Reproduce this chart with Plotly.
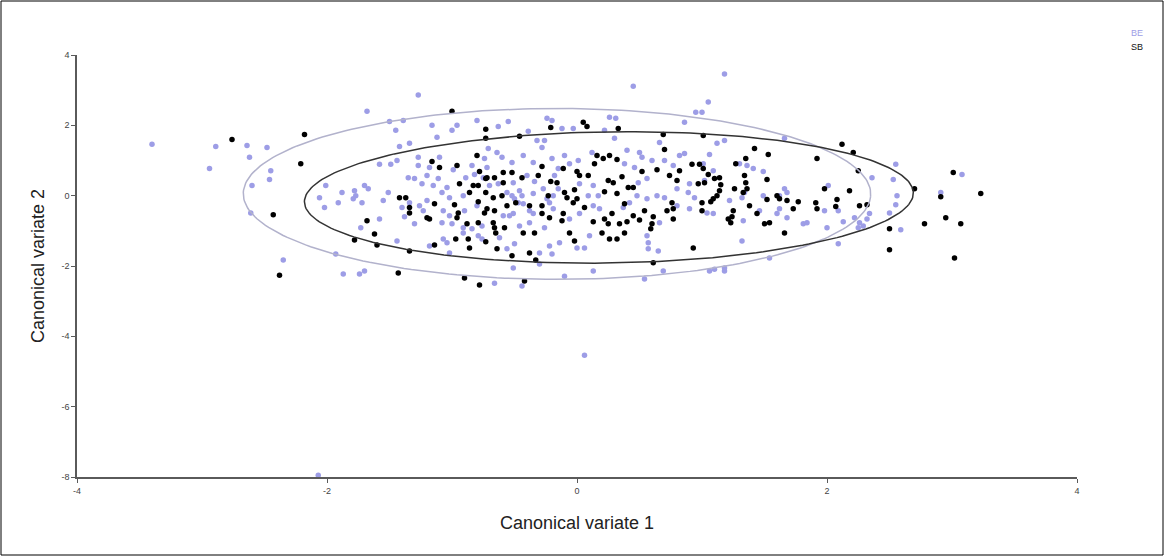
import numpy as np
import plotly.graph_objects as go

# ---------------- data ----------------
BE_x = [-3.40, -2.89, -2.64, -2.48, -2.62, -2.94, -2.45, -2.46, -2.60, -2.61, -2.35,
        -1.68, -1.50, -1.39, -1.45, -1.16, -1.12, -1.00, -0.96, -0.80, -1.42, -1.34, -1.58, -1.49,
        -1.44, -1.27, -1.27, -1.18, -1.10, -0.99, -0.89, -0.82, -0.84, -0.74, -2.01, -2.06, -2.02,
        -1.91, -1.88, -1.78, -1.77, -1.70, -1.67, -1.79, -1.72, -1.51, -1.55, -1.35, -1.30, -1.24,
        -1.20, -1.15, -1.11, -1.08, -1.04, -1.02, -0.91, -1.40, -1.34, -1.26, -1.20, -1.23, -1.38,
        -1.30, -1.58, -1.73, -1.07, -1.02, -1.08, -1.00, -0.91, -0.84, -0.90, -0.80, -0.76, -0.91,
        -0.79, -0.76, -1.44, -1.07, -1.04, -1.18, -1.02, -1.93, -1.87, -1.74, -1.70, -1.27,
        -0.24, -0.20, -0.12, -0.03, 0.26, 0.31, 0.22, -0.63, -0.55, -0.39, -0.32, -0.26, -0.28,
        -0.71, -0.64, -0.72, -0.60, -0.52, -0.43, -0.35, -0.20, -0.15, -0.10, 0.01, 0.12, -0.06,
        0.30, 0.40, 0.50, 0.52, 0.60, 0.38, 0.46, 0.56, 0.49, 0.66, 0.70, 0.77, -0.75, -0.70,
        -0.63, -0.51, -0.46, -0.40, -0.34, -0.27, -0.18, -0.15, -0.56, -0.52, -0.50, -0.47, -0.44,
        -0.43, -0.35, -0.24, -0.22, -0.19, -0.38, -0.35, -0.51, -0.59, -0.54, -0.38, -0.46, -0.26,
        -0.19, 0.02, 0.13, 0.09, 0.17, 0.13, 0.18, 0.02, -0.06, 0.42, 0.37, 0.48, 0.56, 0.64,
        0.70, 0.66, 0.56, 0.10, 0.00, 0.06, -0.22, -0.14, -0.50, -0.56, -0.62, -0.30, 0.57, 0.57,
        0.65, -0.30, -0.10, 0.13, -0.51, -0.44, 0.54, 0.69, -0.66, -0.20,
        0.45, 1.18, 1.05,
        0.95, 1.00, 0.86, 1.66, 1.12, 1.18, 0.82, 0.86, 1.06, 1.01, 1.09, 1.30, 1.36, 1.41, 1.49,
        1.02, 0.90, 0.80, 0.89, 0.94, 1.34, 1.32, 1.49, 1.66, 1.68, 1.62, 2.01, 1.62, 1.60, 1.68,
        1.22, 1.04, 1.09, 1.33, 1.46, 1.81, 1.84, 1.98, 2.09, 2.00, 2.13, 2.22, 2.26, 2.29,
        2.25, 2.32, 2.09, 1.32, 1.54, 1.06, 1.10, 1.18, 1.18, 0.80, 0.90,
        2.55, 2.36, 2.53, 3.08, 2.91, 2.56, 2.55, 2.34, 2.50, 2.59,
        0.06, -2.07]
BE_y = [1.46, 1.40, 1.43, 1.37, 1.09, 0.77, 0.71, 0.46, 0.29, -0.49, -1.83,
        2.40, 2.11, 2.14, 1.86, 2.00, 1.66, 1.86, 2.00, 2.14, 1.40, 1.49, 0.89, 0.89,
        1.00, 1.09, 0.86, 0.80, 1.09, 0.74, 0.51, 0.60, 0.86, 1.06, 0.29, -0.06, -0.34,
        -0.20, 0.09, 0.14, 0.00, 0.29, 0.20, -0.09, -0.20, 0.09, -0.14, 0.51, 0.49, 0.34,
        0.57, 0.29, 0.49, 0.09, 0.23, -0.06, 0.00, -0.34, -0.20, -0.29, -0.14, -0.43, -0.60,
        -0.80, -0.66, -0.91, -0.43, -0.57, -0.77, -0.80, -0.91, -0.94, -0.43, -0.29, -0.86, -1.06,
        -1.14, -1.23, -1.29, -1.23, -1.34, -1.43, -1.63, -1.66, -2.23, -2.23, -2.14, 2.86,
        2.20, 2.14, 1.91, 1.91, 2.23, 2.20, 1.86, 1.97, 2.11, 1.83, 1.57, 1.57, 1.37,
        1.34, 1.23, 0.80, 1.09, 0.94, 1.14, 0.94, 1.06, 0.77, 1.14, 1.00, 1.23, 0.91,
        1.63, 1.29, 1.23, 1.09, 1.00, 0.91, 0.80, 0.49, 0.37, 1.51, 1.00, 0.86, 0.51, 0.29,
        0.34, 0.37, 0.14, 0.57, 0.40, 0.20, 0.57, 0.20, 0.09, 0.00, -0.09, -0.20, 0.00,
        -0.23, 0.06, -0.09, -0.20, 0.00, -0.43, -0.51, -0.51, -0.57, -0.57, -0.77, -0.86, -0.91,
        -0.37, 0.34, 0.29, 0.00, 0.00, -0.29, -0.37, -0.51, -0.66, -0.20, -0.34, 0.00, -0.09, 0.00,
        -0.06, -0.77, -1.14, -1.14, -1.49, -1.49, -1.43, -1.34, -1.37, -1.51, -1.20, -1.63, -1.34, -1.51,
        -1.57, -1.94, -2.29, -2.14, -2.06, -2.57, -2.37, -2.14, -2.49, -1.66,
        3.11, 3.46, 2.66,
        2.37, 2.37, 2.09, 1.63, 1.49, 1.57, 1.14, 1.20, 1.17, 0.91, 0.71, 0.91, 0.86, 0.77, 0.69,
        0.43, 0.34, 0.20, 0.09, -0.06, 0.09, -0.06, 0.00, 0.20, 0.09, 0.00, 0.29, -0.37, -0.51, -0.63,
        -0.14, -0.49, -0.51, -0.71, -0.43, -0.80, -0.77, -0.43, -0.43, -0.91, -0.74, -0.63, -0.77, -0.86,
        -0.91, -0.66, -1.37, -1.29, -1.77, -2.14, -2.09, -2.06, -2.14, -0.29, -0.37,
        0.89, 0.51, 0.46, 0.60, 0.09, 0.00, -0.26, -0.51, -0.49, -0.97,
        -4.54, -7.95]

SB_x = [-2.76, -2.43, -2.38,
        -1.00, -2.18, -2.21, -0.73, -0.73, -1.16, -1.10, -0.96, -0.80, -0.78, -0.73, -0.94, -0.83,
        -0.79, -0.86, -0.79, -1.42, -1.37, -1.34, -1.34, -1.14, -0.98, -0.95, -0.96, -1.20, -1.18,
        -0.74, -0.88, -0.79, -1.68, -1.62, -1.78, -1.60, -0.97, -0.87, -0.86, -0.73, -1.14, -1.34,
        -1.43, -0.90, -0.78,
        -0.21, 0.05, 0.08, 0.33, -0.46, 0.69, 0.70, -0.28, -0.11, 0.16, 0.21, 0.14, 0.26, 0.32,
        0.64, 0.52, 0.36, -0.59, -0.52, -0.72, -0.66, -0.59, -0.44, -0.31, -0.21, -0.16, 0.00, 0.02,
        0.09, 0.25, 0.29, 0.41, 0.45, 0.32, 0.22, 0.74, 0.80, 0.76, 0.77, 0.72, -0.73, -0.67, -0.60,
        -0.72, -0.66, -0.56, -0.49, -0.38, -0.28, -0.23, -0.10, -0.02, -0.03, 0.00, -0.08, -0.28,
        -0.22, -0.11, -0.12, 0.06, 0.13, 0.22, 0.28, 0.25, 0.34, 0.40, 0.38, 0.45, 0.54, 0.50, 0.61,
        0.60, 0.59, -0.67, -0.66, -0.58, -0.65, -0.43, -0.34, -0.06, -0.02, 0.20, 0.26, 0.32, 0.38,
        -0.64, -0.52, -0.38, -0.33, 0.61, -0.42,
        1.01, 1.42, 1.53, 1.35, 1.27, 0.92, 0.98, 1.01, 0.82, 1.05, 1.10, 1.14, 1.15, 0.97, 1.02,
        1.34, 1.35, 1.26, 1.33, 1.36, 1.52, 1.14, 1.12, 1.09, 1.07, 1.00, 0.77, 1.00, 1.38, 1.52,
        1.60, 1.62, 1.68, 1.77, 1.73, 1.44, 1.25, 1.24, 1.21, 1.23, 1.50, 1.54, 1.66, 0.93, 1.91,
        1.92, 1.98, 1.92, 2.18, 2.08, 2.07, 2.26, 2.32, 2.12, 2.21, 2.25,
        2.70, 3.01, 2.91, 3.23, 2.95, 2.78, 3.07, 2.50, 2.50, 3.02]
SB_y = [1.60, -0.54, -2.26,
        2.40, 1.74, 0.91, 1.89, 1.63, 0.97, 0.80, 0.86, 1.14, 0.69, 0.49, 0.34, 0.29,
        0.29, 0.09, -0.17, -0.06, -0.06, -0.34, -0.49, -0.23, -0.26, -0.49, -0.63, -0.63, -0.66,
        -0.49, -0.80, -0.77, -0.71, -1.09, -1.26, -1.40, -1.23, -1.23, -1.49, -1.31, -1.40, -1.57,
        -2.20, -2.34, -2.54,
        1.94, 2.09, 1.97, 1.91, 1.69, 1.74, 1.31, 0.83, 0.77, 1.14, 1.06, 0.91, 1.14, 1.03,
        0.74, 0.69, 0.54, 0.66, 0.66, 0.51, 0.51, 0.37, 0.51, 0.57, 0.40, 0.37, 0.69, 0.57,
        0.57, 0.43, 0.37, 0.23, 0.23, 0.06, 0.11, 0.57, 0.43, -0.20, -0.37, -0.43, 0.09, -0.06, 0.00,
        -0.37, -0.43, -0.29, -0.20, -0.29, -0.29, 0.00, 0.09, 0.17, -0.20, -0.09, -0.06, -0.51,
        -0.63, -0.51, -0.71, -0.34, -0.74, -0.66, -0.51, -0.80, -0.80, -0.74, -0.23, -0.57, -0.43, -0.69, -0.60,
        -0.80, -0.94, -0.77, -0.91, -0.91, -1.06, -1.06, -1.06, -1.06, -1.29, -1.06, -1.23, -1.23, -1.06,
        -1.51, -1.71, -1.63, -1.83, -1.91, -2.43,
        1.71, 1.34, 1.17, 1.06, 0.91, 0.89, 0.89, 0.77, 0.71, 0.60, 0.49, 0.51, 0.31, 0.34, 0.37,
        0.57, 0.37, 0.20, 0.09, 0.20, 0.46, 0.14, 0.00, -0.09, -0.17, -0.20, -0.66, -0.43, -0.29, -0.11,
        0.00, -0.09, -0.14, -0.17, -0.37, -0.51, -0.43, -0.60, -0.66, -0.77, -0.80, -0.77, -1.06, -1.49, -0.20,
        -0.37, 0.20, 1.06, 0.14, -0.11, -0.31, -0.29, -0.26, 1.46, 1.23, 0.71,
        0.20, 0.66, -0.03, 0.06, -0.63, -0.80, -0.80, -0.94, -1.54, -1.77]

# ellipse parameters (centre x, centre y, semi-axis a, semi-axis b, rotation in rad)
BE_ELLIPSE = (-0.16, 0.05, 2.51, 2.43, -0.03)
SB_ELLIPSE = (0.255, -0.05, 2.443, 1.86, 0.12)

x_ticks = [-4, -2, 0, 2, 4]
y_ticks = [-8, -6, -4, -2, 0, 2, 4]

BE_COLOR = "#9d9de6"
SB_COLOR = "#000000"


def ellipse(params, n=240):
    cx, cy, a, b, th = params
    t = np.linspace(0, 2 * np.pi, n)
    ex = cx + a * np.cos(t) * np.cos(th) - b * np.sin(t) * np.sin(th)
    ey = cy + a * np.cos(t) * np.sin(th) + b * np.sin(t) * np.cos(th)
    return ex, ey


fig = go.Figure()
fig.add_trace(go.Scatter(x=BE_x, y=BE_y, mode="markers", name="BE",
                         marker=dict(color=BE_COLOR, size=5.5, line=dict(width=0))))
fig.add_trace(go.Scatter(x=SB_x, y=SB_y, mode="markers", name="SB",
                         marker=dict(color=SB_COLOR, size=5.5, line=dict(width=0))))
ex, ey = ellipse(BE_ELLIPSE)
fig.add_trace(go.Scatter(x=ex, y=ey, mode="lines", line=dict(color="#b2b2cc", width=1.5),
                         hoverinfo="skip", showlegend=False))
ex, ey = ellipse(SB_ELLIPSE)
fig.add_trace(go.Scatter(x=ex, y=ey, mode="lines", line=dict(color="#333333", width=1.5),
                         hoverinfo="skip", showlegend=False))

W, H = 1165, 557
ML, MR, MT, MB = 77, 88, 55, 80
PW, PH = W - ML - MR, H - MT - MB

axis_common = dict(showgrid=False, zeroline=False, showline=True, linecolor="#5a5a5a",
                   linewidth=1.5, ticks="outside", ticklen=4, tickcolor="#5a5a5a",
                   tickfont=dict(size=9, color="#444444", family="Liberation Sans, Arial"),
                   mirror=False)

fig.update_layout(
    width=W, height=H,
    margin=dict(l=ML, r=MR, t=MT, b=MB, autoexpand=False),
    paper_bgcolor="white", plot_bgcolor="white",
    showlegend=False,
    font=dict(family="Liberation Sans, Arial, sans-serif"),
    xaxis=dict(range=[-4, 4], tickvals=x_ticks, ticktext=[str(v) for v in x_ticks],
               title=dict(text="Canonical variate 1", font=dict(size=18, color="#222222"), standoff=22),
               **axis_common),
    yaxis=dict(range=[-8, 4], tickvals=y_ticks, ticktext=[str(v) for v in y_ticks],
               title=dict(text="Canonical variate 2", font=dict(size=18, color="#222222"), standoff=12),
               **axis_common),
    annotations=[
        dict(text="BE", x=(1137 - ML) / PW, y=(H - MB - 33) / PH, xref="paper", yref="paper",
             showarrow=False, font=dict(size=9, color=BE_COLOR), xanchor="center", yanchor="middle"),
        dict(text="SB", x=(1137 - ML) / PW, y=(H - MB - 47) / PH, xref="paper", yref="paper",
             showarrow=False, font=dict(size=9, color="#111111"), xanchor="center", yanchor="middle"),
    ],
    shapes=[dict(type="rect", xref="paper", yref="paper",
                 x0=(1 - ML) / PW, x1=(W - 2 - ML) / PW,
                 y0=(H - MB - (H - 2)) / PH, y1=(H - MB - 1) / PH,
                 line=dict(color="black", width=1), fillcolor="rgba(0,0,0,0)", layer="above")],
)

fig.write_html("out.html", config={"displayModeBar": False},
               post_script="document.body.style.margin='0px';document.body.style.overflow='hidden';")
